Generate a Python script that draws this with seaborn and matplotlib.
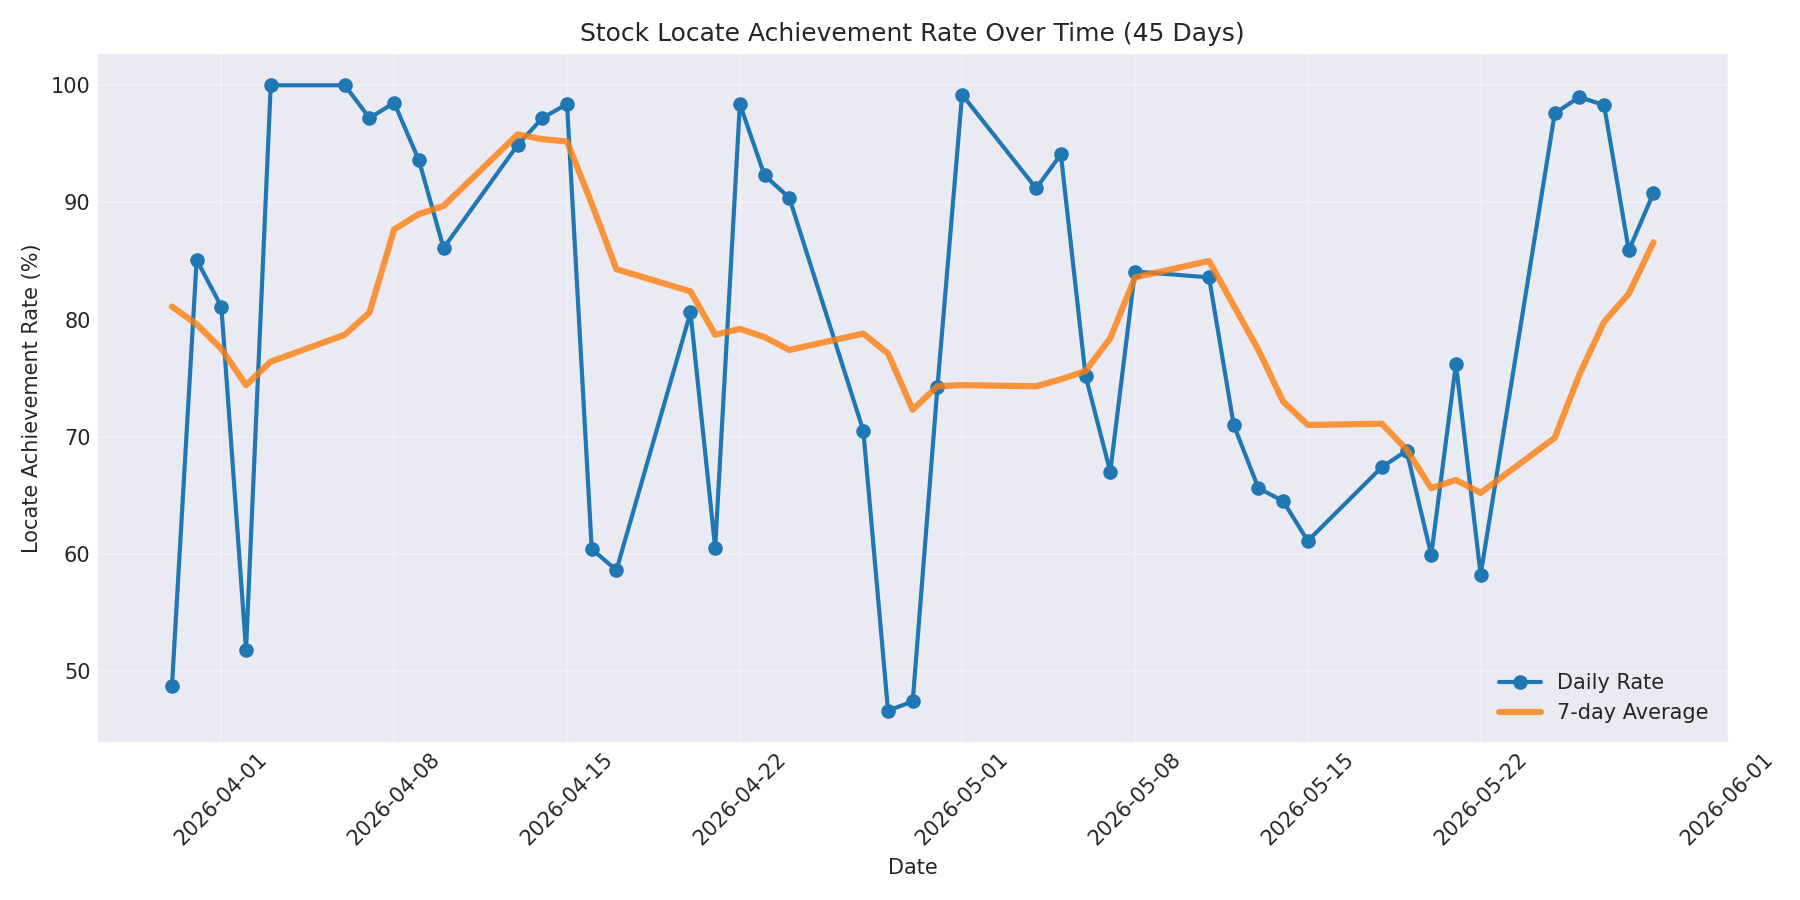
import pandas as pd
import seaborn as sns
import matplotlib.pyplot as plt
import matplotlib.dates as mdates

# business days shown in the chart
dates = pd.to_datetime([
    "2026-03-30", "2026-03-31", "2026-04-01", "2026-04-02", "2026-04-03",
    "2026-04-06", "2026-04-07", "2026-04-08", "2026-04-09", "2026-04-10",
    "2026-04-13", "2026-04-14", "2026-04-15", "2026-04-16", "2026-04-17",
    "2026-04-20", "2026-04-21", "2026-04-22", "2026-04-23", "2026-04-24",
    "2026-04-27", "2026-04-28", "2026-04-29", "2026-04-30", "2026-05-01",
    "2026-05-04", "2026-05-05", "2026-05-06", "2026-05-07", "2026-05-08",
    "2026-05-11", "2026-05-12", "2026-05-13", "2026-05-14", "2026-05-15",
    "2026-05-18", "2026-05-19", "2026-05-20", "2026-05-21", "2026-05-22",
    "2026-05-25", "2026-05-26", "2026-05-27", "2026-05-28", "2026-05-29",
])

daily_rate = [
    48.7, 85.1, 81.1, 51.8, 100.0,
    100.0, 97.2, 98.5, 93.6, 86.1,
    94.9, 97.2, 98.4, 60.4, 58.6,
    80.6, 60.5, 98.4, 92.3, 90.4,
    70.5, 46.6, 47.4, 74.2, 99.2,
    91.2, 94.1, 75.2, 67.0, 84.1,
    83.6, 71.0, 65.6, 64.5, 61.1,
    67.4, 68.8, 59.9, 76.2, 58.2,
    97.6, 99.0, 98.3, 85.9, 90.8,
]

avg_7day = [
    81.1, 79.6, 77.5, 74.4, 76.4,
    78.7, 80.6, 87.7, 89.0, 89.7,
    95.8, 95.4, 95.2, 89.9, 84.3,
    82.4, 78.7, 79.2, 78.5, 77.4,
    78.8, 77.1, 72.3, 74.3, 74.4,
    74.3, 74.9, 75.6, 78.4, 83.6,
    85.0, 81.2, 77.4, 73.0, 71.0,
    71.1, 68.9, 65.6, 66.3, 65.2,
    69.9, 75.3, 79.8, 82.2, 86.6,
]

df = pd.DataFrame({"Date": dates, "Daily": daily_rate, "Avg": avg_7day})

plt.style.use("seaborn-v0_8-darkgrid")
plt.rcParams["font.family"] = ["DejaVu Sans"]
fig, ax = plt.subplots(figsize=(12, 6), dpi=150)

sns.lineplot(data=df, x="Date", y="Daily", ax=ax, color="#1f77b4", linewidth=2,
             marker="o", markersize=7, markeredgewidth=0, label="Daily Rate")
sns.lineplot(data=df, x="Date", y="Avg", ax=ax, color="#ff7f0e", linewidth=3,
             alpha=0.8, label="7-day Average")

ax.set_title("Stock Locate Achievement Rate Over Time (45 Days)")
ax.set_xlabel("Date")
ax.set_ylabel("Locate Achievement Rate (%)")
ax.xaxis.set_major_formatter(mdates.DateFormatter("%Y-%m-%d"))
plt.setp(ax.get_xticklabels(), rotation=45)
ax.grid(True, alpha=0.3)
ax.legend(loc="lower right")

plt.tight_layout()
plt.savefig("out.png")
